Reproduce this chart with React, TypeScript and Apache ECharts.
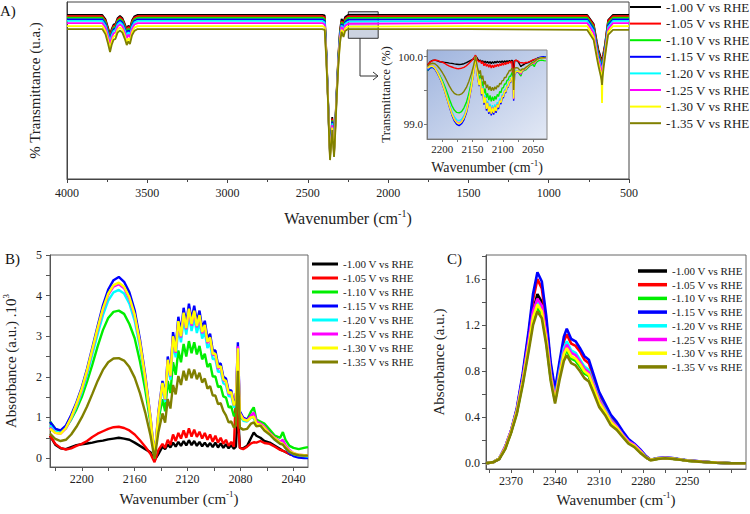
import React, { useEffect, useRef } from 'react';
import * as echarts from 'echarts';

const FONT = "'Liberation Serif', 'Times New Roman', Times, serif";

const seriesNames = ['-1.00 V vs RHE', '-1.05 V vs RHE', '-1.10 V vs RHE', '-1.15 V vs RHE', '-1.20 V vs RHE', '-1.25 V vs RHE', '-1.30 V vs RHE', '-1.35 V vs RHE'];
const seriesColors = ['#000000', '#ff0000', '#00ee00', '#0000ff', '#00ffff', '#ff00ff', '#ffff00', '#808000'];

// ---------- Panel A: % transmittance (arbitrary offset units) ----------
const wnA = [4000, 3780, 3760, 3745, 3732, 3722, 3710, 3698, 3685, 3670, 3655, 3640, 3628, 3618, 3608, 3595, 3580, 3560, 3000, 2410, 2395, 2385, 2375, 2368, 2362, 2355, 2348, 2342, 2337, 2330, 2321, 2310, 2300, 2290, 2283, 2278, 2268, 2250, 1500, 760, 720, 700, 690, 682, 676, 671, 668, 665, 661, 656, 650, 642, 630, 600, 500];
const tA100 = [92.7, 92.7, 90.2, 85.7, 81.7, 84.7, 87.2, 87.7, 90.9, 92.2, 90.9, 87.7, 84.7, 86.7, 85.2, 89.7, 91.9, 92.7, 92.7, 92.7, 92.4, 72.9, 47.5, 27.7, 15.3, 24.9, 35.0, 24.9, 16.4, 30.5, 49.2, 70.1, 84.2, 90.4, 89.3, 88.7, 91.5, 92.7, 92.7, 92.7, 87.6, 77.4, 72.9, 70.6, 68.9, 67.8, 67.2, 68.4, 70.1, 72.9, 75.7, 81.4, 89.8, 92.7, 92.7];
const tA105 = [92.0, 92.0, 89.5, 85.0, 81.0, 84.0, 86.5, 87.0, 90.2, 91.5, 90.2, 87.0, 84.0, 86.0, 84.5, 89.0, 91.2, 92.0, 92.0, 92.0, 91.4, 72.2, 47.1, 27.4, 14.8, 24.2, 34.1, 24.2, 15.9, 29.9, 48.6, 69.3, 83.2, 89.3, 88.2, 87.7, 90.4, 91.8, 92.0, 92.1, 87.0, 76.3, 71.8, 69.5, 67.8, 66.7, 65.5, 67.8, 69.5, 72.3, 75.1, 80.8, 89.3, 92.0, 92.0];
const tA110 = [91.1, 91.1, 88.5, 83.9, 79.8, 82.9, 85.5, 86.0, 89.3, 90.5, 89.3, 86.0, 82.9, 85.0, 83.4, 88.0, 90.3, 91.1, 91.1, 91.1, 90.4, 71.5, 46.8, 27.0, 14.2, 23.5, 33.2, 23.5, 15.4, 29.1, 48.0, 68.7, 82.4, 88.6, 87.3, 86.6, 89.5, 91.0, 91.1, 91.1, 85.9, 75.1, 70.6, 68.4, 66.1, 65.0, 63.8, 66.1, 67.8, 70.6, 74.0, 79.7, 88.1, 91.1, 91.1];
const tA115 = [90.2, 90.2, 87.6, 83.0, 78.9, 82.0, 84.6, 85.1, 88.4, 89.6, 88.4, 85.1, 82.0, 84.1, 82.5, 87.1, 89.4, 90.2, 90.2, 90.2, 89.4, 70.8, 46.5, 26.7, 13.6, 22.8, 32.4, 22.8, 14.9, 28.5, 47.4, 68.0, 81.4, 87.7, 86.4, 85.6, 88.6, 90.0, 90.2, 90.2, 84.7, 74.0, 69.5, 67.2, 65.0, 63.8, 62.7, 65.0, 66.7, 69.5, 72.9, 78.5, 87.0, 90.2, 90.2];
const tA120 = [89.3, 89.3, 86.6, 82.0, 77.8, 81.0, 83.6, 84.1, 87.4, 88.6, 87.4, 84.0, 80.9, 83.0, 81.4, 86.1, 88.5, 89.3, 89.3, 89.3, 88.4, 70.1, 46.1, 26.4, 13.1, 22.2, 31.5, 22.2, 14.5, 27.8, 46.9, 67.4, 80.6, 86.8, 85.5, 84.6, 87.7, 88.9, 89.3, 89.3, 83.6, 72.9, 68.4, 66.1, 63.8, 62.7, 60.5, 63.8, 65.5, 68.4, 71.8, 77.4, 85.9, 89.3, 89.3];
const tA125 = [88.1, 88.1, 85.4, 80.7, 76.4, 79.7, 82.3, 82.8, 86.2, 87.4, 86.2, 82.7, 79.5, 81.6, 80.0, 84.8, 87.3, 88.1, 88.1, 88.1, 87.3, 69.3, 45.7, 26.0, 12.5, 21.4, 30.5, 21.4, 13.9, 27.0, 46.3, 66.6, 79.6, 85.9, 84.5, 83.6, 86.6, 87.7, 88.1, 88.1, 82.5, 71.8, 67.2, 65.0, 62.7, 61.6, 58.2, 62.7, 64.4, 67.2, 71.2, 76.8, 84.7, 88.1, 88.1];
const tA130 = [86.4, 86.4, 83.5, 78.6, 73.8, 77.6, 80.5, 81.0, 84.5, 85.7, 84.5, 80.9, 77.5, 79.5, 78.0, 83.0, 85.5, 86.4, 86.4, 86.4, 85.7, 68.1, 45.1, 25.4, 11.6, 20.2, 29.1, 20.2, 13.1, 26.0, 45.3, 65.4, 78.2, 84.4, 82.9, 81.8, 85.0, 86.1, 86.4, 86.4, 80.2, 70.1, 65.5, 62.7, 60.5, 57.1, 42.9, 58.8, 62.7, 66.1, 70.1, 75.7, 83.1, 86.4, 86.4];
const tA135 = [84.7, 84.7, 81.7, 76.7, 71.7, 75.7, 78.7, 79.2, 82.7, 83.9, 82.7, 79.2, 75.7, 77.7, 76.2, 81.2, 83.7, 84.7, 84.7, 84.7, 84.2, 67.2, 44.6, 24.9, 10.7, 19.2, 27.7, 19.2, 12.4, 24.9, 44.6, 64.4, 76.8, 83.1, 81.4, 80.2, 83.6, 84.7, 84.7, 84.2, 78.5, 68.4, 63.8, 60.5, 58.2, 55.9, 53.1, 57.1, 60.5, 64.4, 68.4, 74.0, 81.4, 84.2, 84.2];
const transA = [tA100, tA105, tA110, tA115, tA120, tA125, tA130, tA135];

// ---------- Panel B: absorbance x10^3 (CO region) ----------
const wnB = [2224, 2220, 2216, 2212, 2208, 2204, 2200, 2196, 2192, 2188, 2184, 2180, 2176, 2172, 2168, 2164, 2160, 2156, 2152, 2148, 2145, 2142,
  2139, 2137, 2135, 2133, 2131, 2129, 2127, 2125, 2123, 2121, 2119, 2117, 2115, 2113, 2111, 2109, 2107, 2105, 2103, 2101, 2099, 2097, 2095, 2093, 2091, 2089, 2087, 2085, 2083.5, 2082, 2080.5, 2078,
  2075, 2072, 2070, 2068, 2065, 2062, 2058, 2054, 2050, 2048, 2046, 2043, 2040, 2036, 2032, 2029];
const aB100 = [0.55, 0.33, 0.24, 0.22, 0.27, 0.32, 0.34, 0.36, 0.38, 0.41, 0.43, 0.46, 0.48, 0.5, 0.48, 0.45, 0.38, 0.3, 0.22, 0.14, -0.05, 0.1,
  0.28, 0.22, 0.33, 0.26, 0.38, 0.28, 0.4, 0.3, 0.42, 0.31, 0.44, 0.32, 0.42, 0.3, 0.4, 0.29, 0.38, 0.28, 0.37, 0.27, 0.38, 0.26, 0.36, 0.25, 0.34, 0.24, 0.32, 0.23, 0.28, 1.2, 0.25, 0.24,
  0.3, 0.5, 0.63, 0.55, 0.5, 0.42, 0.38, 0.3, 0.22, 0.18, 0.15, 0.1, 0.07, 0.06, 0.05, 0.05];
const aB105 = [0.55, 0.35, 0.25, 0.21, 0.24, 0.3, 0.35, 0.42, 0.52, 0.6, 0.66, 0.72, 0.76, 0.77, 0.74, 0.68, 0.58, 0.44, 0.28, 0.1, -0.1, 0.2,
  0.35, 0.25, 0.45, 0.32, 0.58, 0.42, 0.62, 0.48, 0.68, 0.5, 0.73, 0.53, 0.7, 0.52, 0.65, 0.48, 0.62, 0.45, 0.58, 0.4, 0.55, 0.38, 0.5, 0.35, 0.45, 0.3, 0.4, 0.28, 1.6, 0.9, 0.25, 0.22,
  0.28, 0.36, 0.39, 0.38, 0.42, 0.37, 0.35, 0.28, 0.2, 0.18, 0.15, 0.1, 0.07, 0.05, 0.04, 0.04];
const aB110 = [0.9, 0.72, 0.66, 0.75, 0.95, 1.2, 1.5, 1.88, 2.3, 2.75, 3.15, 3.45, 3.6, 3.63, 3.55, 3.3, 2.95, 2.38, 1.68, 0.85, 0.0, 0.95,
  1.45, 1.15, 1.9, 1.6, 2.36, 2.05, 2.65, 2.36, 2.81, 2.5, 2.88, 2.58, 2.85, 2.55, 2.76, 2.43, 2.57, 2.24, 2.33, 2.01, 2.01, 1.75, 1.77, 1.52, 1.49, 1.25, 1.27, 1.03, 1.1, 2.3, 1.0, 0.95,
  0.95, 1.15, 1.25, 0.95, 0.9, 0.85, 0.7, 0.55, 0.5, 0.64, 0.45, 0.3, 0.25, 0.22, 0.25, 0.27];
const aB115 = [0.89, 0.72, 0.68, 0.8, 1.06, 1.37, 1.74, 2.2, 2.72, 3.25, 3.76, 4.15, 4.38, 4.46, 4.34, 4.08, 3.64, 2.92, 2.05, 1.0, 0.03, 1.15,
  1.9, 1.5, 2.5, 2.1, 3.1, 2.7, 3.48, 3.1, 3.7, 3.3, 3.8, 3.4, 3.75, 3.35, 3.63, 3.2, 3.38, 2.95, 3.06, 2.65, 2.65, 2.3, 2.33, 2.0, 1.96, 1.65, 1.67, 1.35, 1.45, 2.85, 1.15, 1.0,
  0.95, 1.05, 1.0, 0.85, 0.8, 0.75, 0.62, 0.48, 0.36, 0.35, 0.25, 0.12, 0.05, 0.01, 0.0, 0.0];
const aB120 = [0.8, 0.65, 0.62, 0.73, 0.97, 1.27, 1.62, 2.05, 2.55, 3.05, 3.52, 3.88, 4.08, 4.14, 4.05, 3.8, 3.38, 2.72, 1.9, 0.95, 0.0, 1.05,
  1.75, 1.38, 2.3, 1.93, 2.85, 2.48, 3.2, 2.85, 3.4, 3.04, 3.5, 3.13, 3.45, 3.08, 3.34, 2.94, 3.11, 2.71, 2.82, 2.44, 2.44, 2.12, 2.14, 1.84, 1.8, 1.52, 1.54, 1.24, 1.33, 2.6, 1.06, 0.92,
  0.9, 1.0, 1.0, 0.85, 0.8, 0.72, 0.58, 0.45, 0.35, 0.38, 0.25, 0.15, 0.1, 0.06, 0.05, 0.04];
const aB125 = [0.75, 0.62, 0.6, 0.73, 0.99, 1.31, 1.68, 2.13, 2.65, 3.17, 3.65, 4.02, 4.22, 4.28, 4.18, 3.92, 3.5, 2.82, 1.97, 0.97, 0.0, 1.1,
  1.82, 1.44, 2.4, 2.01, 2.97, 2.59, 3.34, 2.97, 3.55, 3.17, 3.65, 3.26, 3.6, 3.22, 3.48, 3.07, 3.24, 2.83, 2.94, 2.54, 2.54, 2.2, 2.24, 1.92, 1.88, 1.58, 1.6, 1.3, 1.4, 2.75, 1.1, 0.97,
  0.92, 1.05, 1.12, 0.9, 0.85, 0.78, 0.62, 0.5, 0.4, 0.45, 0.32, 0.2, 0.12, 0.08, 0.07, 0.07];
const aB130 = [0.72, 0.62, 0.6, 0.74, 1.0, 1.33, 1.7, 2.16, 2.68, 3.2, 3.68, 4.05, 4.26, 4.32, 4.22, 3.96, 3.53, 2.84, 1.98, 0.97, 0.0, 1.1,
  1.85, 1.45, 2.42, 2.03, 3.0, 2.62, 3.37, 3.0, 3.58, 3.2, 3.68, 3.3, 3.63, 3.25, 3.52, 3.1, 3.28, 2.86, 2.97, 2.57, 2.57, 2.23, 2.26, 1.94, 1.9, 1.6, 1.62, 1.3, 1.4, 2.7, 1.1, 0.95,
  0.92, 1.0, 1.02, 0.85, 0.82, 0.74, 0.6, 0.48, 0.38, 0.35, 0.28, 0.17, 0.12, 0.08, 0.07, 0.06];
const aB135 = [0.6, 0.47, 0.42, 0.45, 0.58, 0.77, 1.0, 1.27, 1.58, 1.9, 2.17, 2.36, 2.45, 2.46, 2.4, 2.24, 1.98, 1.6, 1.12, 0.55, -0.02, 0.65,
  1.1, 0.87, 1.45, 1.22, 1.8, 1.57, 2.02, 1.8, 2.15, 1.91, 2.2, 1.97, 2.18, 1.94, 2.1, 1.86, 1.96, 1.71, 1.77, 1.54, 1.54, 1.33, 1.35, 1.16, 1.05, 0.88, 0.9, 0.75, 0.8, 2.15, 0.75, 0.7,
  0.72, 0.85, 0.88, 0.78, 0.8, 0.68, 0.58, 0.45, 0.35, 0.33, 0.25, 0.15, 0.1, 0.07, 0.06, 0.06];
const absB = [aB100, aB105, aB110, aB115, aB120, aB125, aB130, aB135];

// ---------- Panel C: absorbance (CO2 region) ----------
const wnC = [2387, 2382, 2378, 2374, 2370, 2366, 2362, 2358, 2355, 2352, 2349, 2346, 2343, 2340, 2337, 2334, 2332, 2329, 2326, 2323, 2320, 2317, 2314, 2310, 2306, 2302, 2298, 2294, 2290, 2286, 2282, 2278, 2275, 2270, 2265, 2260, 2255, 2250, 2240, 2230, 2220, 2210];
const aC100 = [0.0, 0.01, 0.04, 0.13, 0.27, 0.45, 0.72, 1.04, 1.32, 1.47, 1.4, 1.13, 0.77, 0.55, 0.76, 0.95, 1.0, 0.92, 0.9, 0.85, 0.79, 0.76, 0.66, 0.52, 0.44, 0.36, 0.31, 0.24, 0.18, 0.15, 0.1, 0.05, 0.03, 0.04, 0.045, 0.04, 0.032, 0.023, 0.013, 0.005, 0.0, 0.0];
const aC105 = [0.0, 0.01, 0.04, 0.14, 0.28, 0.47, 0.76, 1.12, 1.42, 1.6, 1.52, 1.23, 0.85, 0.61, 0.85, 1.06, 1.12, 1.04, 1.02, 0.97, 0.9, 0.87, 0.75, 0.6, 0.5, 0.4, 0.34, 0.27, 0.2, 0.16, 0.11, 0.06, 0.03, 0.042, 0.047, 0.042, 0.033, 0.024, 0.014, 0.005, 0.0, 0.0];
const aC110 = [0.0, 0.01, 0.04, 0.13, 0.27, 0.44, 0.7, 1.0, 1.24, 1.35, 1.3, 1.06, 0.74, 0.54, 0.75, 0.93, 0.98, 0.91, 0.89, 0.84, 0.78, 0.76, 0.65, 0.52, 0.44, 0.35, 0.3, 0.24, 0.18, 0.15, 0.1, 0.05, 0.03, 0.04, 0.045, 0.04, 0.032, 0.023, 0.013, 0.005, 0.0, 0.0];
const aC115 = [0.0, 0.01, 0.04, 0.14, 0.28, 0.48, 0.78, 1.15, 1.47, 1.66, 1.58, 1.28, 0.88, 0.64, 0.88, 1.1, 1.17, 1.08, 1.06, 1.0, 0.93, 0.9, 0.78, 0.62, 0.52, 0.42, 0.36, 0.28, 0.21, 0.17, 0.12, 0.06, 0.03, 0.045, 0.05, 0.045, 0.035, 0.025, 0.015, 0.005, 0.0, 0.0];
const aC120 = [0.0, 0.01, 0.04, 0.14, 0.28, 0.46, 0.73, 1.05, 1.3, 1.41, 1.35, 1.11, 0.78, 0.57, 0.8, 1.0, 1.06, 0.98, 0.96, 0.9, 0.84, 0.81, 0.7, 0.56, 0.47, 0.38, 0.32, 0.25, 0.19, 0.16, 0.11, 0.05, 0.03, 0.042, 0.047, 0.042, 0.033, 0.024, 0.014, 0.005, 0.0, 0.0];
const aC125 = [0.0, 0.01, 0.04, 0.14, 0.28, 0.46, 0.73, 1.06, 1.32, 1.43, 1.37, 1.12, 0.78, 0.56, 0.78, 0.97, 1.03, 0.96, 0.94, 0.88, 0.82, 0.79, 0.69, 0.55, 0.46, 0.37, 0.32, 0.25, 0.19, 0.16, 0.11, 0.05, 0.03, 0.042, 0.047, 0.042, 0.033, 0.024, 0.014, 0.005, 0.0, 0.0];
const aC130 = [0.0, 0.01, 0.04, 0.13, 0.27, 0.45, 0.71, 1.02, 1.27, 1.38, 1.32, 1.08, 0.75, 0.54, 0.76, 0.95, 1.0, 0.93, 0.91, 0.86, 0.8, 0.77, 0.67, 0.53, 0.45, 0.36, 0.31, 0.24, 0.18, 0.15, 0.1, 0.05, 0.03, 0.04, 0.045, 0.04, 0.032, 0.023, 0.013, 0.005, 0.0, 0.0];
const aC135 = [0.0, 0.01, 0.035, 0.12, 0.26, 0.43, 0.68, 0.97, 1.2, 1.32, 1.26, 1.03, 0.72, 0.52, 0.72, 0.89, 0.94, 0.87, 0.85, 0.8, 0.74, 0.71, 0.62, 0.49, 0.42, 0.33, 0.29, 0.23, 0.17, 0.14, 0.09, 0.05, 0.025, 0.038, 0.043, 0.038, 0.03, 0.022, 0.012, 0.004, 0.0, 0.0];
const absC = [aC100, aC105, aC110, aC115, aC120, aC125, aC130, aC135];

// ---------- tick / label values ----------
const insetXLabels = [2200, 2150, 2100, 2050];
const insetXTicks = [2200, 2175, 2150, 2125, 2100, 2075, 2050];
const insetYLabels = [99, 100];
const insetYTicks = [99, 99.5, 100];
const bXLabels = [2200, 2160, 2120, 2080, 2040];
const bXTicks = [2220, 2200, 2180, 2160, 2140, 2120, 2100, 2080, 2060, 2040];
const bYLabels = [0, 1, 2, 3, 4, 5];
const bYTicks = [0, 0.5, 1, 1.5, 2, 2.5, 3, 3.5, 4, 4.5, 5];
const cXLabels = [2370, 2340, 2310, 2280, 2250];
const cXTicks = [2385, 2370, 2355, 2340, 2325, 2310, 2295, 2280, 2265, 2250, 2235, 2220];
const cYLabels = [0, 0.4, 0.8, 1.2, 1.6];
const cYTicks = [0, 0.2, 0.4, 0.6, 0.8, 1.0, 1.2, 1.4, 1.6, 1.8];

const pairs = (xs: number[], ys: number[]) => xs.map((x, i) => [x, ys[i]]);

const AXC = '#555';
const LBL = '#222';
const plain = (v: number) => String(Math.round(v * 1000) / 1000);

function supName(main: string, sup: string, tail: string, size: number) {
  return {
    name: `{n|${main}}{s|${sup}}{n|${tail}}`,
    nameTextStyle: {
      fontFamily: FONT, fontSize: size, color: LBL,
      rich: {
        n: { fontSize: size, fontFamily: FONT, color: LBL, lineHeight: size + 4 },
        s: { fontSize: Math.round(size * 0.62), fontFamily: FONT, color: LBL, lineHeight: Math.round(size * 0.62), verticalAlign: 'top' },
      },
    },
  };
}

function valueAxis(opts: any) {
  return {
    type: 'value',
    splitLine: { show: false },
    axisLine: { show: true, onZero: false, lineStyle: { color: AXC, width: 1 } },
    axisTick: { show: true, inside: false, length: 4, lineStyle: { color: AXC } },
    nameLocation: 'middle',
    ...opts,
  };
}

export default function App() {
  const ref = useRef<HTMLDivElement>(null);
  useEffect(() => {
    document.body.style.margin = '0';
    if (!ref.current) return;
    const chart = echarts.init(ref.current, null, { renderer: 'svg' });

    const grid = [
      { left: 67, top: 2, width: 562, height: 177, show: true, borderColor: '#444', borderWidth: 1, backgroundColor: 'transparent' },
      {
        left: 427, top: 50, width: 120, height: 89, show: true, borderColor: '#888', borderWidth: 1,
        backgroundColor: new echarts.graphic.LinearGradient(0, 0, 1, 1, [
          { offset: 0, color: '#9fb4de' },
          { offset: 1, color: '#e3e9f5' },
        ]),
      },
      { left: 48, top: 255, width: 260, height: 212, show: true, borderColor: '#666', borderWidth: 1, backgroundColor: 'transparent' },
      { left: 486, top: 255, width: 260, height: 214, show: true, borderColor: '#666', borderWidth: 1, backgroundColor: 'transparent' },
    ];

    const lbl = (size: number, margin: number, extra: any = {}) => ({
      fontFamily: FONT, fontSize: size, color: LBL, margin, formatter: plain, ...extra,
    });

    const xAxis = [
      valueAxis({
        gridIndex: 0, min: 500, max: 4000, interval: 500, inverse: true,
        axisLine: { show: true, onZero: false, lineStyle: { color: '#444' } },
        axisTick: { show: true, length: 4, lineStyle: { color: '#444' } },
        minorTick: { show: true, splitNumber: 2, length: 3, lineStyle: { color: '#444' } },
        axisLabel: lbl(12, 8, { showMinLabel: true, showMaxLabel: true }),
        nameGap: 29,
        ...supName('Wavenumber (cm', '-1', ')', 16),
      }),
      valueAxis({
        gridIndex: 1, min: 2027, max: 2225, inverse: true,
        axisLine: { show: true, onZero: false, lineStyle: { color: '#777' } },
        axisTick: { show: true, length: 3, customValues: insetXTicks, lineStyle: { color: '#777' } },
        axisLabel: lbl(11, 4, { customValues: insetXLabels }),
        nameGap: 19,
        ...supName('Wavenumber (cm', '-1', ')', 14),
      }),
      valueAxis({
        gridIndex: 2, min: 2029, max: 2224, inverse: true,
        axisTick: { show: true, length: 4, customValues: bXTicks, lineStyle: { color: AXC } },
        axisLabel: lbl(12, 6, { customValues: bXLabels }),
        nameGap: 22,
        ...supName('Wavenumber (cm', '-1', ')', 15),
      }),
      valueAxis({
        gridIndex: 3, min: 2210, max: 2387, inverse: true,
        axisTick: { show: true, length: 4, customValues: cXTicks, lineStyle: { color: AXC } },
        axisLabel: lbl(12, 6, { customValues: cXLabels }),
        nameGap: 21,
        ...supName('Wavenumber (cm', '-1', ')', 15),
      }),
    ];

    const yAxis = [
      valueAxis({
        gridIndex: 0, min: 0, max: 100,
        axisLine: { show: true, onZero: false, lineStyle: { color: '#444' } },
        axisTick: { show: false }, axisLabel: { show: false },
        name: '% Transmittance (u.a.)', nameGap: 25, nameRotate: 90,
        nameTextStyle: { fontFamily: FONT, fontSize: 15, color: LBL },
      }),
      valueAxis({
        gridIndex: 1, min: 98.78, max: 100.1,
        axisLine: { show: true, onZero: false, lineStyle: { color: '#777' } },
        axisTick: { show: true, length: 3, customValues: insetYTicks, lineStyle: { color: '#777' } },
        axisLabel: lbl(11, 4, { customValues: insetYLabels, formatter: (v: number) => v.toFixed(1) }),
        name: 'Transmittance (%)', nameGap: 35, nameRotate: 90,
        nameTextStyle: { fontFamily: FONT, fontSize: 13, color: LBL },
      }),
      valueAxis({
        gridIndex: 2, min: -0.22, max: 5,
        axisTick: { show: true, length: 4, customValues: bYTicks, lineStyle: { color: AXC } },
        axisLabel: lbl(12, 8, { customValues: bYLabels }),
        nameGap: 30, nameRotate: 90,
        ...supName('Absorbance (a.u.) .10', '3', '', 15),
      }),
      valueAxis({
        gridIndex: 3, min: -0.05, max: 1.81,
        axisTick: { show: true, length: 4, customValues: cYTicks, lineStyle: { color: AXC } },
        axisLabel: lbl(12, 6, { customValues: cYLabels, formatter: (v: number) => v.toFixed(1) }),
        name: 'Absorbance (a.u.)', nameGap: 40, nameRotate: 90,
        nameTextStyle: { fontFamily: FONT, fontSize: 15, color: LBL },
      }),
    ];

    const series: any[] = [];
    const base = (k: number, idx: number, width: number) => ({
      name: seriesNames[k], type: 'line', xAxisIndex: idx, yAxisIndex: idx,
      showSymbol: false, symbol: 'none', silent: true, clip: true,
      lineStyle: { width, color: seriesColors[k] }, itemStyle: { color: seriesColors[k] },
      emphasis: { disabled: true }, z: 2 + k,
    });
    seriesNames.forEach((_, k) => {
      const s: any = { ...base(k, 0, 1.8), data: pairs(wnA, transA[k]) };
      if (k === seriesNames.length - 1) {
        s.markArea = {
          silent: true,
          itemStyle: { color: 'rgba(110,130,170,0.35)', borderColor: '#333', borderWidth: 1 },
          data: [[{ coord: [2248, 94.5] }, { coord: [2062, 79.5] }]],
        };
      }
      series.push(s);
    });
    seriesNames.forEach((_, k) => {
      series.push({ ...base(k, 1, 1.4), data: pairs(wnB, absB[k].map((a) => 100 * Math.pow(10, -a / 1000))) });
    });
    seriesNames.forEach((_, k) => {
      series.push({ ...base(k, 2, 2.4), data: pairs(wnB, absB[k]) });
    });
    seriesNames.forEach((_, k) => {
      series.push({ ...base(k, 3, 2.6), data: pairs(wnC, absC[k]) });
    });

    const legendCommon = {
      orient: 'vertical', icon: 'rect', selectedMode: false, data: seriesNames, padding: 0,
    };
    const legend = [
      { ...legendCommon, left: 630, top: 0, itemWidth: 31, itemHeight: 2, itemGap: 2.6,
        textStyle: { fontFamily: FONT, fontSize: 13, color: LBL, lineHeight: 14 } },
      { ...legendCommon, left: 312, top: 258, itemWidth: 26, itemHeight: 3, itemGap: 2,
        textStyle: { fontFamily: FONT, fontSize: 11, color: LBL, lineHeight: 12 } },
      { ...legendCommon, left: 638, top: 265, itemWidth: 29, itemHeight: 3.5, itemGap: 1.7,
        textStyle: { fontFamily: FONT, fontSize: 11, color: LBL, lineHeight: 12 } },
    ];

    const graphic = [
      { type: 'text', left: 0, top: 3, style: { text: 'A)', font: `15px ${FONT}`, fill: '#111' } },
      { type: 'text', left: 5, top: 251, style: { text: 'B)', font: `15px ${FONT}`, fill: '#111' } },
      { type: 'text', left: 447, top: 251, style: { text: 'C)', font: `15px ${FONT}`, fill: '#111' } },
      { type: 'polyline', shape: { points: [[360, 38], [360, 76], [378, 76]] }, style: { stroke: '#333', lineWidth: 1, fill: null } },
      { type: 'polyline', shape: { points: [[373, 72], [378, 76], [373, 80]] }, style: { stroke: '#333', lineWidth: 1, fill: null } },
    ];

    chart.setOption({
      animation: false,
      backgroundColor: '#ffffff',
      grid, xAxis, yAxis, series, legend, graphic,
    });
    return () => chart.dispose();
  }, []);
  return <div ref={ref} style={{ width: 750, height: 514 }} />;
}
